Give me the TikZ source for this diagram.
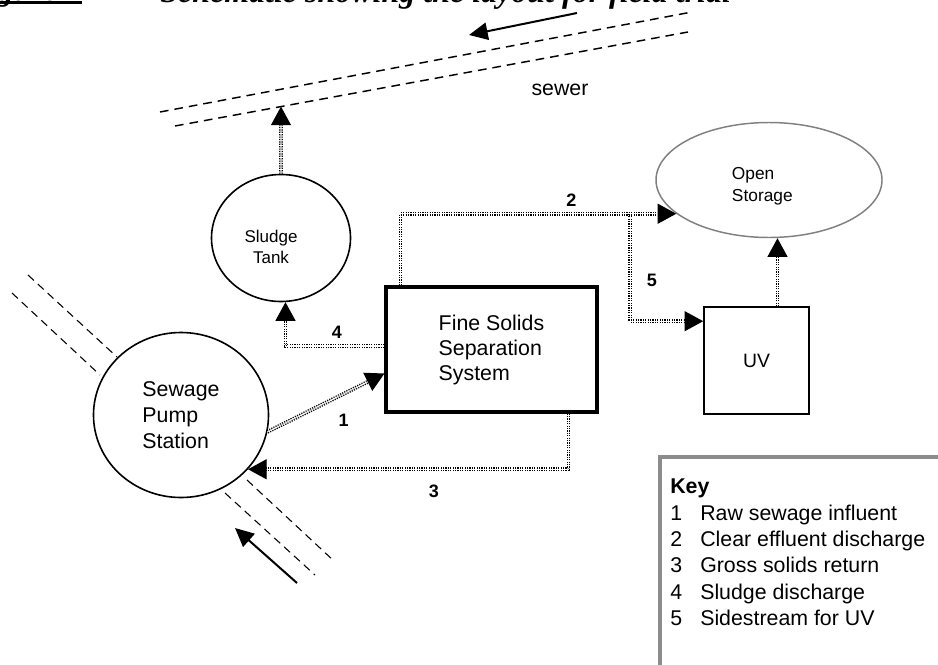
\documentclass[tikz,border=0pt]{standalone}
\usepackage{fontspec}
\setmainfont{Liberation Sans}
\newfontfamily\titlefont{Liberation Serif}
\usetikzlibrary{arrows.meta,calc,shapes.geometric}
\newdimen\pxu \pxu=0.75pt
\definecolor{keygray}{HTML}{8C8C8C}
\definecolor{storegray}{HTML}{808080}
\newcommand\keyrow[2]{\makebox[30\pxu][l]{#1}#2}
\tikzset{
  plantshape/.style={draw=black, ellipse, line width=1.2pt, inner sep=0pt},
  unitbox/.style={draw=black, rectangle, inner sep=0pt, align=left},
  flowarrow/.style={draw=black, line width=1pt, double=white, double distance=0.9pt,
    dash pattern=on 0.9pt off 0.9pt, -{Triangle[length=14pt,width=15pt]}},
  dirarrow/.style={draw=black, line width=1.5pt, -{Triangle[length=14pt,width=13pt]}},
  sewerline/.style={draw=black, line width=1.1pt, dash pattern=on 6.5pt off 4.5pt},
  pipeline/.style={draw=black, line width=0.8pt, dash pattern=on 6pt off 4pt},
  numlabel/.style={font=\bfseries\fontsize{13.5pt}{15pt}\selectfont, inner sep=0pt},
  keyframe/.style={draw=keygray, line width=2.3pt},
  keytext/.style={font=\fontsize{16pt}{19.7pt}\selectfont, align=left, inner sep=0pt},
  titletext/.style={font=\titlefont\bfseries\itshape\fontsize{24pt}{28pt}\selectfont, inner sep=0pt}
}

\begin{document}
\begin{tikzpicture}[x=0.75pt, y=-0.75pt]
  \useasboundingbox[fill=white] (0,0) rectangle (938,664);
  % caption, cut by the top edge
  \node[titletext, anchor=base west] (fignum) at (-33,0) {Figure 1};
  \node[titletext, anchor=base west] (title) at (160,2) {Schematic showing the layout for field trial};
  \draw[line width=1.9pt] ([yshift=-2pt]fignum.base west) -- ([yshift=-2pt]fignum.base east);

  % units
  \node[plantshape, minimum width=175\pxu, minimum height=165\pxu, align=left,
    font=\fontsize{16pt}{19.5pt}\selectfont] (pump) at (181,415) {Sewage\\Pump\\Station};
  \node[plantshape, minimum width=139\pxu, minimum height=127\pxu,
    label={[xshift=-7.5pt, yshift=-6.5pt, align=center, font=\fontsize{12.75pt}{15.75pt}\selectfont]center:{Sludge\\Tank}}]
    (tank) at (281,238) {};
  \node[plantshape, draw=storegray, line width=1.1pt, minimum width=226\pxu, minimum height=115\pxu,
    label={[xshift=-5pt, yshift=-4.5pt, align=left, font=\fontsize{13pt}{16.5pt}\selectfont]center:{Open\\Storage}}]
    (store) at (769,180) {};
  \node[unitbox, line width=2.3pt, minimum width=211\pxu, minimum height=125\pxu,
    font=\fontsize{16pt}{18.75pt}\selectfont] (fss) at (491.5,349.5) {Fine Solids\\Separation\\System};
  \node[unitbox, line width=1.2pt, minimum width=105\pxu, minimum height=107\pxu,
    font=\fontsize{14.5pt}{17pt}\selectfont] (uv) at (756.5,360.5) {UV};

  % sewer
  \coordinate (sewUpA) at (160,112);
  \coordinate (sewUpB) at (692,12);
  \coordinate (sewLoA) at (175,126);
  \coordinate (sewLoB) at (688,32);
  \draw[sewerline] (sewUpA) -- (sewUpB);
  \draw[sewerline] (sewLoA) -- (sewLoB);
  \node[font=\fontsize{16pt}{19pt}\selectfont, inner sep=0pt] (sewer) at (560,90) {sewer};
  \coordinate (sewTail) at (577,13);
  \coordinate (sewHead) at (469,35);
  \draw[dirarrow] (sewTail) -- (sewHead);

  % pipes at the pump station
  \coordinate (pipeA1) at (28,275);  \coordinate (pipeA2) at (117,357);
  \coordinate (pipeB1) at (12,293);  \coordinate (pipeB2) at (100,375);
  \coordinate (pipeC1) at (225,493); \coordinate (pipeC2) at (315,575);
  \coordinate (pipeD1) at (247,480); \coordinate (pipeD2) at (334,561);
  \draw[pipeline] (pipeA1) -- (pipeA2);
  \draw[pipeline] (pipeB1) -- (pipeB2);
  \draw[pipeline] (pipeC1) -- (pipeC2);
  \draw[pipeline] (pipeD1) -- (pipeD2);
  \coordinate (inTail) at (297,583);
  \coordinate (inHead) at (235,528);
  \draw[dirarrow] (inTail) -- (inHead);

  % flows
  \coordinate (split) at ($(store.200)+(-46,0)$);
  \draw[flowarrow] (pump.-11) -- node[numlabel, pos=0.65, below=15pt] (n1) {1} ($(fss.west)+(0,24)$);
  \draw[flowarrow] ($(fss.north west)+(16,0)$) |- node[numlabel, pos=0.81, above=4.9pt] (n2) {2} (store.200);
  \draw[flowarrow] ($(fss.south east)+(-30,0)$) |- node[numlabel, pos=0.71, below=11pt] (n3) {3} (pump.-39);
  \draw[flowarrow] ($(fss.west)+(0,-3.5)$) -| node[numlabel, pos=0.24, above=4.9pt] (n4) {4} (tank.-86);
  \draw[flowarrow] (split) |- node[numlabel, pos=0.31, right=12pt] (n5) {5} ($(uv.north west)+(0,15)$);
  \draw[flowarrow] ($(uv.north)+(21,0)$) coordinate (uvout) -- (uvout |- store.south);
  \draw[flowarrow] (tank.north) -- (intersection of sewLoA--sewLoB and tank.north--tank.south);

  % key
  \draw[keyframe] (660,457) rectangle (960,690);
  \node[keytext, anchor=north west] (key) at (670,479) {\textbf{Key}\\
    \keyrow{1}{Raw sewage influent}\\
    \keyrow{2}{Clear effluent discharge}\\
    \keyrow{3}{Gross solids return}\\
    \keyrow{4}{Sludge discharge}\\
    \keyrow{5}{Sidestream for UV}};
\end{tikzpicture}
\end{document}
